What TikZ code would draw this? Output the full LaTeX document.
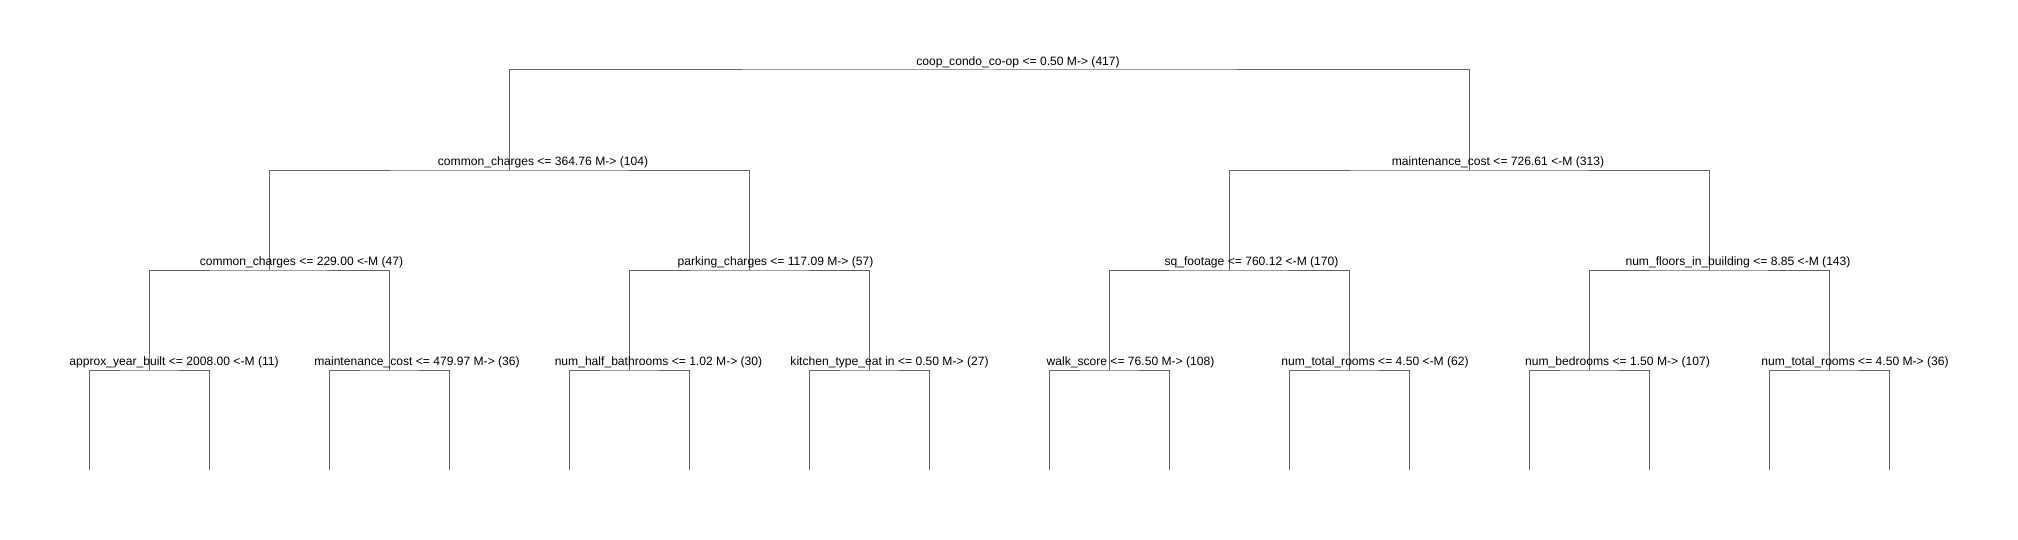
\documentclass[tikz,border=0pt]{standalone}
\usepackage{fontspec}
\newfontfamily\treefont{Liberation Sans}
\usepackage{tikz}
\definecolor{treegray}{RGB}{100,100,100}

\begin{document}
\begin{tikzpicture}[
  x=0.5pt,y=-0.5pt,
  every node/.style={inner sep=0pt,anchor=base,
   font={\treefont\fontsize{6.05pt}{7pt}\selectfont}},
  branch/.style={draw=treegray,line width=0.5pt}
  ]
  \useasboundingbox (0,0) rectangle (2018,540);

  % split points
  \coordinate (A) at (989,70);
  \coordinate (B1) at (509,170);
  \coordinate (B2) at (1469,170);
  \coordinate (C1) at (269,270);
  \coordinate (C2) at (749,270);
  \coordinate (C3) at (1229,270);
  \coordinate (C4) at (1709,270);
  \coordinate (D1) at (149,370);
  \coordinate (D2) at (389,370);
  \coordinate (D3) at (629,370);
  \coordinate (D4) at (869,370);
  \coordinate (D5) at (1109,370);
  \coordinate (D6) at (1349,370);
  \coordinate (D7) at (1589,370);
  \coordinate (D8) at (1829,370);

  % leaves
  \coordinate (L1) at (89,470);
  \coordinate (L2) at (209,470);
  \coordinate (L3) at (329,470);
  \coordinate (L4) at (449,470);
  \coordinate (L5) at (569,470);
  \coordinate (L6) at (689,470);
  \coordinate (L7) at (809,470);
  \coordinate (L8) at (929,470);
  \coordinate (L9) at (1049,470);
  \coordinate (L10) at (1169,470);
  \coordinate (L11) at (1289,470);
  \coordinate (L12) at (1409,470);
  \coordinate (L13) at (1529,470);
  \coordinate (L14) at (1649,470);
  \coordinate (L15) at (1769,470);
  \coordinate (L16) at (1889,470);

  \draw[branch] (B1) |- (A) -| (B2);
  \draw[branch] (C1) |- (B1) -| (C2);
  \draw[branch] (C3) |- (B2) -| (C4);
  \draw[branch] (D1) |- (C1) -| (D2);
  \draw[branch] (D3) |- (C2) -| (D4);
  \draw[branch] (D5) |- (C3) -| (D6);
  \draw[branch] (D7) |- (C4) -| (D8);
  \draw[branch] (L1) |- (D1) -| (L2);
  \draw[branch] (L3) |- (D2) -| (L4);
  \draw[branch] (L5) |- (D3) -| (L6);
  \draw[branch] (L7) |- (D4) -| (L8);
  \draw[branch] (L9) |- (D5) -| (L10);
  \draw[branch] (L11) |- (D6) -| (L12);
  \draw[branch] (L13) |- (D7) -| (L14);
  \draw[branch] (L15) |- (D8) -| (L16);

  % split labels
  \node (Atext) at (1018,65.5) {coop\_condo\_co-op <= 0.50 M-> (417)};
  \node (B1text) at (543,165.5) {common\_charges <= 364.76 M-> (104)};
  \node (B2text) at (1498,165.5) {maintenance\_cost <= 726.61 <-M (313)};
  \node (C1text) at (301.5,265.5) {common\_charges <= 229.00 <-M (47)};
  \node (C2text) at (775.5,265.5) {parking\_charges <= 117.09 M-> (57)};
  \node (C3text) at (1251.5,265.5) {sq\_footage <= 760.12 <-M (170)};
  \node (C4text) at (1738,265.5) {num\_floors\_in\_building <= 8.85 <-M (143)};
  \node (D1text) at (174,365.5) {approx\_year\_built <= 2008.00 <-M (11)};
  \node (D2text) at (417,365.5) {maintenance\_cost <= 479.97 M-> (36)};
  \node (D3text) at (658.5,365.5) {num\_half\_bathrooms <= 1.02 M-> (30)};
  \node (D4text) at (889.5,365.5) {kitchen\_type\_eat in <= 0.50 M-> (27)};
  \node (D5text) at (1130.5,365.5) {walk\_score <= 76.50 M-> (108)};
  \node (D6text) at (1375,365.5) {num\_total\_rooms <= 4.50 <-M (62)};
  \node (D7text) at (1617.5,365.5) {num\_bedrooms <= 1.50 M-> (107)};
  \node (D8text) at (1855,365.5) {num\_total\_rooms <= 4.50 M-> (36)};
\end{tikzpicture}
\end{document}
